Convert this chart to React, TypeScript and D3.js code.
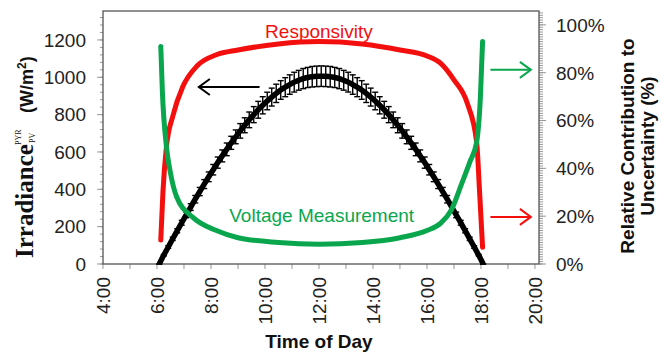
import * as d3 from "d3";

const W = 670;
const H = 354;
const margin = { top: 11, right: 131, bottom: 90, left: 103 };

// axes
const xTickHours = [4, 6, 8, 10, 12, 14, 16, 18, 20];
const leftTicks = [0, 200, 400, 600, 800, 1000, 1200];
const rightTicks = [0, 20, 40, 60, 80, 100];

// irradiance (W/m2), sampled every 10 min from 6:05
const irrStartHour = 6 + 5 / 60;
const irrStepMin = 10;
const irradiance = [
  0, 47, 91, 135, 178, 221, 263, 305, 347, 388, 428, 467, 505, 543, 579, 614,
  649, 681, 713, 743, 772, 800, 826, 850, 873, 894, 914, 932, 947, 961, 974,
  984, 993, 999, 1003, 1005, 1006, 1005, 1003, 999, 993, 984, 974, 961, 947,
  932, 914, 894, 873, 850, 826, 800, 772, 743, 713, 681, 649, 614, 579, 543,
  505, 467, 428, 388, 347, 305, 263, 221, 178, 135, 91, 47, 0,
];
const irrError = [
  0, 4, 7, 9, 11, 13, 15, 18, 20, 22, 24, 26, 28, 30, 32, 34, 35, 37, 39, 40,
  42, 43, 45, 46, 47, 48, 49, 50, 51, 52, 53, 53, 54, 54, 55, 55, 55, 55, 55,
  54, 54, 53, 53, 52, 51, 50, 49, 48, 47, 46, 45, 43, 42, 40, 39, 37, 35, 34,
  32, 30, 28, 26, 24, 22, 20, 18, 15, 13, 11, 9, 7, 4, 0,
];

// relative contribution to uncertainty (%)
const respTime = [
  6.14, 6.22, 6.35, 6.59, 6.95, 7.5, 8.2, 9, 10.5, 12, 13.6, 15, 16, 16.5, 17,
  17.5, 17.84, 17.95, 18.06,
];
const respValue = [
  10, 30, 49, 62, 74, 83, 87.5, 89.5, 92, 93, 92, 89.5, 87, 84, 77, 67, 51, 30,
  7,
];
const voltTime = [
  6.14, 6.2, 6.35, 6.5, 6.73, 7.33, 8.2, 9, 10.5, 12, 13.6, 15, 16, 16.5, 16.9,
  17.3, 17.6, 17.84, 17.98, 18.06,
];
const voltValue = [
  91, 72, 49, 38, 28, 19.5, 14, 11, 9, 8.3, 9, 11, 14, 17, 22.5, 34, 43, 51, 70,
  93,
];

const RED = "#f40f0f";
const GREEN = "#0aa64e";
const SANS = "'Liberation Sans', Arial, sans-serif";
const SERIF = "'Liberation Serif', 'Times New Roman', serif";

export default function App() {
  const innerW = W - margin.left - margin.right;
  const innerH = H - margin.top - margin.bottom;
  const x0 = margin.left;
  const y0 = margin.top + innerH;

  const x = d3.scaleLinear().domain([4, 20.15]).range([x0, x0 + innerW]);
  const yL = d3.scaleLinear().domain([0, 1355]).range([y0, margin.top]);
  const yR = d3.scaleLinear().domain([0, 105.8]).range([y0, margin.top]);

  const irr = irradiance.map((v, i) => ({
    t: irrStartHour + (i * irrStepMin) / 60,
    v,
    e: irrError[i],
  }));

  const irrLine = d3
    .line<{ t: number; v: number }>()
    .x((d) => x(d.t))
    .y((d) => yL(d.v))
    .curve(d3.curveMonotoneX);

  const pctLine = d3
    .line<[number, number]>()
    .x((d) => x(d[0]))
    .y((d) => yR(d[1]))
    .curve(d3.curveMonotoneX);

  const resp = respTime.map((t, i) => [t, respValue[i]] as [number, number]);
  const volt = voltTime.map((t, i) => [t, voltValue[i]] as [number, number]);

  const leftMinor = d3.range(0, 1355, 40);
  const rightMinor = d3.range(0, 106, 1);
  const xMinor = d3.range(4, 21, 1);

  const arrow = (
    t1: number,
    t2: number,
    y: number,
    color: string,
    key: string,
  ) => {
    const xa = x(t1);
    const xb = x(t2);
    const dir = xb > xa ? 1 : -1;
    return (
      <g key={key} stroke={color} strokeWidth={2} fill="none">
        <line x1={xa} y1={y} x2={xb} y2={y} />
        <polyline
          points={`${xb - dir * 11},${y - 8} ${xb},${y} ${xb - dir * 11},${y + 8}`}
        />
      </g>
    );
  };

  const cap = 3;

  return (
    <svg
      width={W}
      height={H}
      style={{ position: "absolute", left: 0, top: 0, background: "#fff" }}
    >
      <rect width={W} height={H} fill="#fff" />

      {/* ticks */}
      <g stroke="#999" strokeWidth={1}>
        {leftMinor.map((v) => (
          <line key={"lm" + v} x1={x0 - 3} x2={x0} y1={yL(v)} y2={yL(v)} />
        ))}
        {leftTicks.map((v) => (
          <line key={"lt" + v} x1={x0 - 6} x2={x0} y1={yL(v)} y2={yL(v)} />
        ))}
        {rightMinor.map((v) => (
          <line
            key={"rm" + v}
            x1={x0 + innerW}
            x2={x0 + innerW + 4}
            y1={yR(v)}
            y2={yR(v)}
          />
        ))}
        {rightTicks.map((v) => (
          <line
            key={"rt" + v}
            x1={x0 + innerW}
            x2={x0 + innerW + 7}
            y1={yR(v)}
            y2={yR(v)}
          />
        ))}
        {xMinor.map((h) => (
          <line key={"xm" + h} x1={x(h)} x2={x(h)} y1={y0} y2={y0 + 5} />
        ))}
      </g>

      {/* frame */}
      <rect
        x={x0}
        y={margin.top}
        width={innerW}
        height={innerH}
        fill="none"
        stroke="#555"
        strokeWidth={1.3}
      />

      {/* tick labels */}
      <g fontFamily={SANS} fontSize={19} fill="#222">
        {leftTicks.map((v) => (
          <text key={"ll" + v} x={x0 - 17} y={yL(v)} dy="0.36em" textAnchor="end">
            {v}
          </text>
        ))}
        {rightTicks.map((v) => (
          <text key={"rl" + v} x={x0 + innerW + 17} y={yR(v)} dy="0.36em">
            {v}%
          </text>
        ))}
        {xTickHours.map((h) => (
          <text
            key={"xl" + h}
            transform={`translate(${x(h)},${y0 + 13}) rotate(-90)`}
            dy="0.36em"
            textAnchor="end"
          >
            {h}:00
          </text>
        ))}
      </g>

      {/* irradiance with error bars */}
      <g stroke="#000" strokeWidth={1.4}>
        {irr.map((d, i) => (
          <g key={"eb" + i}>
            <line x1={x(d.t)} x2={x(d.t)} y1={yL(d.v - d.e)} y2={yL(d.v + d.e)} />
            <line x1={x(d.t) - cap} x2={x(d.t) + cap} y1={yL(d.v + d.e)} y2={yL(d.v + d.e)} />
            <line x1={x(d.t) - cap} x2={x(d.t) + cap} y1={yL(d.v - d.e)} y2={yL(d.v - d.e)} />
          </g>
        ))}
      </g>
      <path d={irrLine(irr) ?? ""} fill="none" stroke="#000" strokeWidth={5.5} />

      {/* uncertainty contributions */}
      <path
        d={pctLine(resp) ?? ""}
        fill="none"
        stroke={RED}
        strokeWidth={5}
        strokeLinecap="round"
      />
      <path
        d={pctLine(volt) ?? ""}
        fill="none"
        stroke={GREEN}
        strokeWidth={5}
        strokeLinecap="round"
      />

      {/* annotations */}
      <text x={x(12)} y={yR(94.6)} textAnchor="middle" fontFamily={SANS} fontSize={19} fill={RED}>
        Responsivity
      </text>
      <text x={x(12.1)} y={yR(17.5)} textAnchor="middle" fontFamily={SANS} fontSize={19} fill={GREEN}>
        Voltage Measurement
      </text>
      {arrow(9.8, 7.55, yL(948), "#000", "a1")}
      {arrow(18.35, 19.85, yR(81.2), GREEN, "a2")}
      {arrow(18.35, 19.85, yR(19.7), RED, "a3")}

      {/* axis titles */}
      <text
        x={x(12)}
        y={348}
        textAnchor="middle"
        fontFamily={SANS}
        fontWeight="bold"
        fontSize={19}
        fill="#111"
      >
        Time of Day
      </text>
      <g transform="translate(33,258) rotate(-90)" fill="#111">
        <text x={0} y={0} fontFamily={SERIF} fontWeight="bold" fontSize={25}>
          Irradiance
        </text>
        <text x={113} y={-12} fontFamily={SERIF} fontSize={8}>
          PYR
        </text>
        <text x={115} y={2} fontFamily={SERIF} fontSize={8}>
          PV
        </text>
        <text x={145} y={0} fontFamily={SANS} fontWeight="bold" fontSize={18}>
          (W/m
          <tspan dy={-7} fontSize={12}>
            2
          </tspan>
          <tspan dy={7}>)</tspan>
        </text>
      </g>
      <g fontFamily={SANS} fontWeight="bold" fontSize={19} fill="#111" textAnchor="middle">
        <text transform="translate(634,146) rotate(-90)">Relative Contribution to</text>
        <text transform="translate(654,146) rotate(-90)">Uncertainty (%)</text>
      </g>
    </svg>
  );
}
